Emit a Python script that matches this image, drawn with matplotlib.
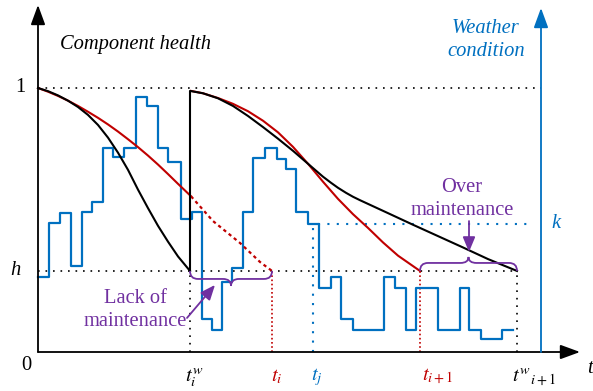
import numpy as np
import matplotlib
matplotlib.use('Agg')
import matplotlib.pyplot as plt
from matplotlib.path import Path
from matplotlib.patches import PathPatch

plt.rcParams['font.family'] = 'serif'
plt.rcParams['font.serif'] = ['Liberation Serif', 'DejaVu Serif']
plt.rcParams['mathtext.fontset'] = 'stix'

BLUE = '#0070C0'
RED = '#C00000'
PURPLE = '#7030A0'

# thresholds
h = 0.307   # health threshold
k = 0.485   # weather threshold

# event times
t_iw = 152
t_i = 234
t_j = 275
t_i1 = 382
t_i1w = 479
t_weather_axis = 503
t_end = 542

# weather condition, step changes
weather_t = [0, 11, 22, 33, 44, 54, 65, 75, 86, 98, 109, 120, 130, 143, 154, 164, 174,
             184, 194, 205, 215, 227, 239, 248, 258, 270, 281, 293, 303, 315, 346, 357,
             368, 378, 400, 422, 431, 443, 464, 475]
weather_k = [0.284, 0.489, 0.527, 0.326, 0.530, 0.568, 0.773, 0.739, 0.773, 0.966, 0.932,
             0.773, 0.720, 0.504, 0.530, 0.125, 0.083, 0.265, 0.318, 0.530, 0.735, 0.773,
             0.731, 0.693, 0.530, 0.485, 0.242, 0.284, 0.125, 0.083, 0.284, 0.242, 0.083,
             0.242, 0.083, 0.242, 0.083, 0.049, 0.083]

# real health (black), first and second life
black1_t = [0, 10, 20, 30, 40, 50, 60, 70, 80, 90, 100, 110, 120, 130, 140, 152]
black1_y = [1.0, 0.988, 0.972, 0.952, 0.928, 0.898, 0.860, 0.812, 0.755, 0.690, 0.615,
            0.545, 0.478, 0.418, 0.362, 0.307]
black2_t = [152, 152, 165, 180, 195, 210, 225, 240, 255, 270, 285, 293, 300, 308, 315, 322,
            330, 350, 375, 400, 425, 450, 479]
black2_y = [0.307, 0.989, 0.980, 0.961, 0.932, 0.894, 0.852, 0.808, 0.762, 0.713, 0.664,
            0.641, 0.622, 0.603, 0.588, 0.575, 0.561, 0.526, 0.482, 0.439, 0.396, 0.352,
            0.307]

# predicted health (red)
red1_t = [0, 10, 20, 30, 40, 50, 60, 70, 80, 90, 100, 110, 120, 130, 140, 153]
red1_y = [1.0, 0.986, 0.970, 0.952, 0.932, 0.910, 0.887, 0.862, 0.835, 0.806, 0.776, 0.744,
          0.710, 0.674, 0.637, 0.590]
red1d_t = [153, 175, 202, 222, 234]
red1d_y = [0.590, 0.496, 0.413, 0.341, 0.307]
red2_t = [153, 165, 180, 195, 210, 225, 240, 255, 270, 285, 300, 315, 330, 345, 360, 382]
red2_y = [0.989, 0.980, 0.962, 0.940, 0.912, 0.876, 0.832, 0.777, 0.713, 0.645, 0.580,
          0.522, 0.470, 0.415, 0.365, 0.307]

PX = 1 / 264.0  # one pixel in health units


def brace(ax, x0, x1, y0, d, tip, r, color):
    xm = (x0 + x1) / 2.0
    yb = y0 + d
    yt = yb + tip
    verts = [(x0, y0), (x0, yb), (x0 + r, yb),
             (xm - r, yb), (xm, yb), (xm, yt),
             (xm, yb), (xm + r, yb),
             (x1 - r, yb), (x1, yb), (x1, y0)]
    codes = [Path.MOVETO, Path.CURVE3, Path.CURVE3, Path.LINETO, Path.CURVE3, Path.CURVE3,
             Path.CURVE3, Path.CURVE3, Path.LINETO, Path.CURVE3, Path.CURVE3]
    ax.add_patch(PathPatch(Path(verts, codes), fill=False, edgecolor=color, lw=1.3, zorder=4))


fig = plt.figure(figsize=(5.93, 3.91), dpi=100)
ax = fig.add_axes([0, 0, 1, 1])
ax.set_xlim(-38, 555)
ax.set_ylim(-39 * PX, 352 * PX)
ax.axis('off')

dot = (0, (1, 3.5))
# reference dotted lines
ax.plot([0, t_weather_axis], [1, 1], color='black', lw=1.2, ls=dot, zorder=1)
ax.plot([0, t_i1w], [h, h], color='black', lw=1.2, ls=dot, zorder=1)
ax.plot([t_iw, t_iw], [0, h], color='black', lw=1.2, ls=dot, zorder=1)
ax.plot([t_i1w, t_i1w], [0, h], color='black', lw=1.2, ls=dot, zorder=1)
ax.plot([t_i, t_i], [0, h], color=RED, lw=1.2, ls=(0, (1, 1.5)), zorder=1)
ax.plot([t_i1, t_i1], [0, h], color=RED, lw=1.2, ls=(0, (1, 1.5)), zorder=1)
ax.plot([t_j, t_j], [0, k], color=BLUE, lw=1.5, ls=(0, (1, 3.5)), zorder=1)
ax.plot([280, 495], [k, k], color=BLUE, lw=1.5, ls=(0, (1, 3.5)), zorder=1)

# weather
ax.step(weather_t, weather_k + [weather_k[-1]], where='post', color=BLUE, lw=1.6, zorder=2)

# health curves
ax.plot(red1_t, red1_y, color=RED, lw=1.5, zorder=3)
ax.plot(red1d_t, red1d_y, color=RED, lw=1.6, ls=(0, (1.5, 1.5)), zorder=3)
ax.plot(red2_t, red2_y, color=RED, lw=1.5, zorder=3)
ax.plot(black1_t, black1_y, color='black', lw=1.5, zorder=3)
ax.plot(black2_t, black2_y, color='black', lw=1.5, zorder=3)

# axes with arrows
ap = dict(arrowstyle='-|>,head_length=0.6,head_width=0.22', color='black', lw=1.3,
          mutation_scale=20, shrinkA=0, shrinkB=0)
ax.annotate('', xy=(0, 347 * PX), xytext=(0, 0), arrowprops=ap)
ax.annotate('', xy=(t_end, 0), xytext=(0, 0), arrowprops=ap)
ap_b = dict(ap, color=BLUE)
ax.annotate('', xy=(t_weather_axis, 344 * PX), xytext=(t_weather_axis, 0), arrowprops=ap_b)

# braces and arrows
brace(ax, t_iw, t_i, h, -8 * PX, -7 * PX, 8, PURPLE)
brace(ax, t_i1, t_i1w, h, 8 * PX, 6 * PX, 8, PURPLE)
ap_p = dict(arrowstyle='-|>,head_length=0.6,head_width=0.25', color=PURPLE, lw=1.3,
            mutation_scale=15, shrinkA=0, shrinkB=0)
ax.annotate('', xy=(177, 0.254), xytext=(149, 0.129), arrowprops=ap_p)
ax.annotate('', xy=(431, 0.379), xytext=(431, 0.496), arrowprops=ap_p)

fs = 14.8
ax.text(22, 1.163, 'Component health', style='italic', fontsize=fs, ha='left', va='center')
ax.text(448, 1.182, 'Weather\ncondition', style='italic', fontsize=fs, ha='center',
        va='center', color=BLUE, linespacing=1.3)
ax.text(-18, 1.0, '1', fontsize=fs, ha='center', va='center')
ax.text(-12, -0.05, '0', fontsize=fs, ha='center', va='center')
ax.text(-23, h, 'h', style='italic', fontsize=fs, ha='center', va='center')
ax.text(518, k, 'k', style='italic', fontsize=fs, ha='center', va='center', color=BLUE)
ax.text(552, -0.061, 't', style='italic', fontsize=fs, ha='center', va='center')
ax.text(97, 0.159, 'Lack of\nmaintenance', fontsize=fs, ha='center', va='center',
        color=PURPLE, linespacing=1.3)
ax.text(424, 0.581, 'Over\nmaintenance', fontsize=fs, ha='center', va='center',
        color=PURPLE, linespacing=1.3)

yl = -0.095
ax.text(t_iw - 5, yl, r'$t_i^w$', fontsize=fs, ha='left', va='center')
ax.text(t_i - 1, yl, r'$t_i$', fontsize=fs, ha='left', va='center', color=RED)
ax.text(t_j - 2, yl, r'$t_j$', fontsize=fs, ha='left', va='center', color=BLUE)
ax.text(t_i1 + 2, yl, r'$t_{i+1}$', fontsize=fs, ha='left', va='center', color=RED)
ax.text(t_i1w - 5, yl, r'$t^w{}_{i+1}$', fontsize=fs, ha='left', va='center')

fig.savefig('out.png', dpi=100)
